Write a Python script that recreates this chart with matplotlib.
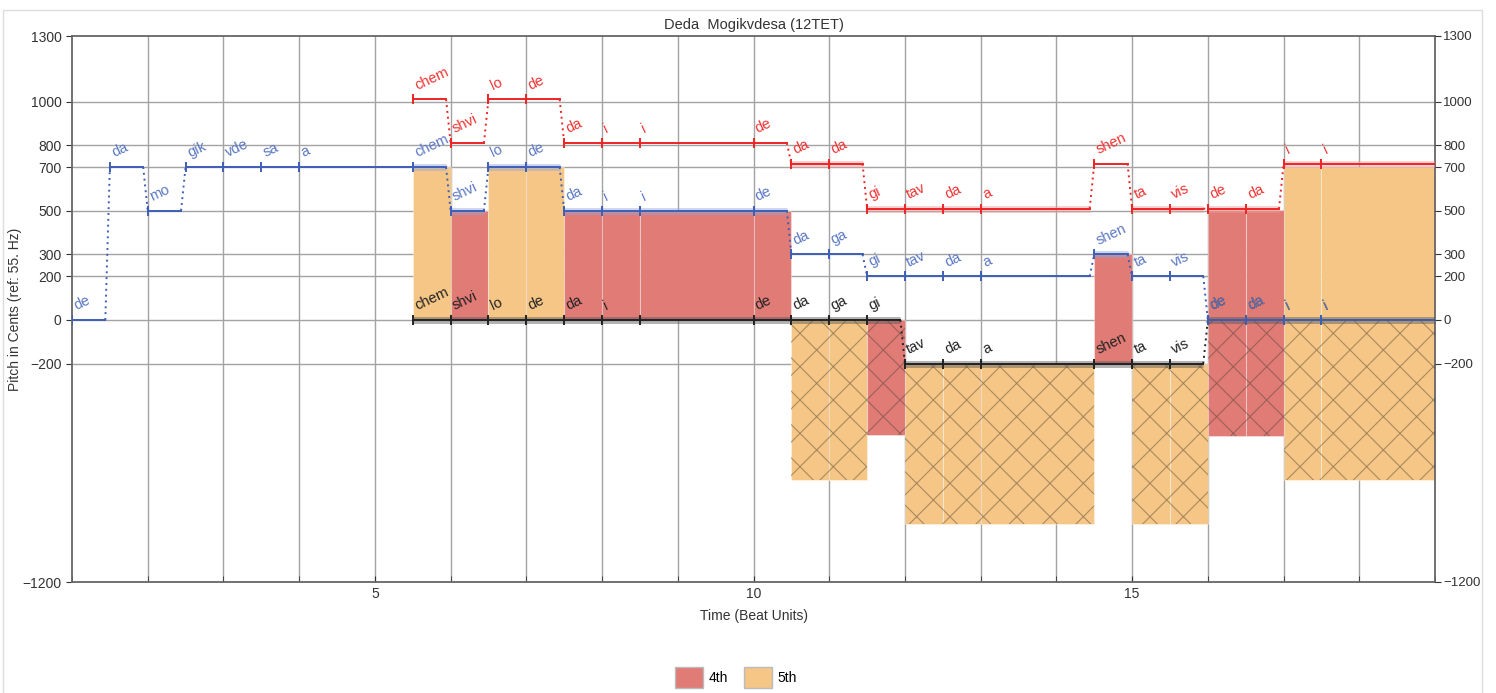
import matplotlib

matplotlib.use("Agg")
import matplotlib.pyplot as plt  # noqa: E402
from matplotlib.patches import Patch, Rectangle  # noqa: E402

plt.rcParams["font.family"] = ["Liberation Sans", "DejaVu Sans"]
plt.rcParams["hatch.linewidth"] = 0.8

PIECE_END = 19

# middle voice (blue)
mid_start = [1, 1.5, 2, 2.5, 3, 3.5, 4, 5.5, 6, 6.5, 7, 7.5, 8, 8.5, 10, 10.5,
             11, 11.5, 12, 12.5, 13, 14.5, 15, 15.5, 16, 16.5, 17, 17.5]
mid_syll = ["de", "da", "mo", "gik", "vde", "sa", "a", "chem", "shvi", "lo", "de",
            "da", "i", "i", "de", "da", "ga", "gi", "tav", "da", "a", "shen", "ta",
            "vis", "de", "da", "i", "i"]
mid_pitch = [0, 700, 500, 700, 700, 700, 700, 700, 500, 700, 700, 500, 500, 500,
             500, 300, 300, 200, 200, 200, 200, 300, 200, 200, 0, 0, 0, 0]

# top voice (red) and bass voice (black) enter at beat 5.5
low_start = [5.5, 6, 6.5, 7, 7.5, 8, 8.5, 10, 10.5, 11, 11.5, 12, 12.5, 13, 14.5,
             15, 15.5, 16, 16.5, 17, 17.5]
top_syll = ["chem", "shvi", "lo", "de", "da", "i", "i", "de", "da", "da", "gi",
            "tav", "da", "a", "shen", "ta", "vis", "de", "da", "i", "i"]
top_pitch = [1010, 810, 1010, 1010, 810, 810, 810, 810, 715, 715, 510, 510, 510,
             510, 715, 510, 510, 508, 508, 715, 715]
bass_syll = ["chem", "shvi", "lo", "de", "da", "i", "", "de", "da", "ga", "gi",
             "tav", "da", "a", "shen", "ta", "vis", "de", "da", "i", "i"]
bass_pitch = [0, 0, 0, 0, 0, 0, 0, 0, 0, 0, 0, -200, -200, -200, -200, -200, -200,
              0, 0, 0, 0]

# interval shading per bass note: solid up to a voice, hatched mirrored below the bass
solid_top = [700, 500, 700, 700, 500, 500, 500, 500, None, None, None, None, None,
             None, 300, None, None, 505, 505, 700, 700]
hatch_bottom = [None, None, None, None, None, None, None, None, -735, -735, -525,
                -935, -935, -935, None, -935, -935, -530, -530, -735, -735]

y_ticks = [1300, 1000, 800, 700, 500, 300, 200, 0, -200, -1200]

COLOR_4TH = "#E07B76"
COLOR_5TH = "#F5C685"
BLUE, BLUE_TEXT = "#3E5FB6", "#5A78C2"
RED, RED_TEXT = "#EE2424", "#F03232"
BLACK, BLACK_TEXT = "#222222", "#222222"


def interval_color(size):
    return COLOR_5TH if size > 600 else COLOR_4TH


def draw_voice(ax, starts, pitches, sylls, color, text_color, band=None, band_color=None):
    ends = starts[1:] + [PIECE_END]
    for i, (x0, x1, p, s) in enumerate(zip(starts, ends, pitches, sylls)):
        nxt = pitches[i + 1] if i + 1 < len(pitches) else None
        change = nxt is not None and nxt != p
        xe = x1 - 0.06 if change else x1
        if band is not None and band[i]:
            ax.plot([x0, xe], [p, p], color=band_color, lw=5, alpha=0.45,
                    solid_capstyle="butt", zorder=4)
        ax.plot([x0, xe], [p, p], color=color, lw=1.4, zorder=5)
        ax.plot(x0, p, marker="|", ms=7, mew=1.4, color=color, zorder=5)
        if change:
            ax.plot([xe, x1], [p, nxt], color=color, lw=1.4, ls=(0, (1, 2)), zorder=5)
        if s:
            ax.annotate(s, (x0, p), xytext=(4, 5), textcoords="offset points",
                        rotation=25, rotation_mode="anchor", color=text_color,
                        fontsize=10.5, ha="left", va="bottom", zorder=6)


fig = plt.figure(figsize=(14.96, 6.93), dpi=100)
ax = fig.add_axes([72 / 1496, 1 - 582 / 693, (1435 - 72) / 1496, (582 - 36) / 693])
ax.set_xlim(1, PIECE_END)
ax.set_ylim(-1200, 1300)

# grid
for x in range(2, PIECE_END):
    ax.axvline(x, color="#a3a3a3", lw=1.0, zorder=1)
for y in y_ticks[1:-1]:
    ax.axhline(y, color="#a3a3a3", lw=1.0, zorder=1)

# interval fills
low_end = low_start[1:] + [PIECE_END]
for x0, x1, b, top, bottom in zip(low_start, low_end, bass_pitch, solid_top, hatch_bottom):
    if top is not None:
        ax.add_patch(Rectangle((x0, b), x1 - x0, top - b, facecolor=interval_color(top - b),
                               edgecolor=(1, 1, 1, 0.35), lw=0.8, zorder=2))
    if bottom is not None:
        ax.add_patch(Rectangle((x0, bottom), x1 - x0, b - bottom,
                               facecolor=interval_color(b - bottom),
                               edgecolor=(1, 1, 1, 0.35), lw=0.8, zorder=2))
        ax.add_patch(Rectangle((x0, bottom), x1 - x0, b - bottom, fill=False, hatch="x",
                               edgecolor=(0.3, 0.25, 0.2, 0.45), lw=0, zorder=3))

# which segments carry a shaded band (they bound an interval fill)
mid_band = []
for x0, p in zip(mid_start, mid_pitch):
    hit = False
    for s, t in zip(low_start, solid_top):
        if s == x0 and t == p:
            hit = True
    mid_band.append(hit)
top_band = [h is not None or (t is not None and abs(t - p) < 15)
            for p, t, h in zip(top_pitch, solid_top, hatch_bottom)]
bass_band = [t is not None or h is not None for t, h in zip(solid_top, hatch_bottom)]

draw_voice(ax, low_start, bass_pitch, bass_syll, BLACK, BLACK_TEXT, bass_band, "#555555")
draw_voice(ax, mid_start, mid_pitch, mid_syll, BLUE, BLUE_TEXT, mid_band, "#8fa6db")
draw_voice(ax, low_start, top_pitch, top_syll, RED, RED_TEXT, top_band, "#f59a9a")

# axes styling
ax.set_yticks(y_ticks)
ax.set_xticks([5, 10, 15])
ax.set_xticks(range(1, PIECE_END + 1), minor=True)
ax.tick_params(axis="y", direction="out", length=4, labelsize=10, colors="#333333")
ax.tick_params(axis="x", which="both", direction="in", length=4, labelsize=10,
               colors="#333333")
for spine in ax.spines.values():
    spine.set_color("#666666")
    spine.set_linewidth(1.3)
right = ax.twinx()
right.set_ylim(ax.get_ylim())
right.set_yticks(y_ticks)
right.tick_params(axis="y", direction="out", length=4, pad=2, labelsize=9.5,
                  colors="#333333")
for spine in right.spines.values():
    spine.set_visible(False)

ax.set_title("Deda  Mogikvdesa (12TET)", fontsize=10.5, color="#333333", pad=5)
ax.set_xlabel("Time (Beat Units)", fontsize=10, color="#333333", labelpad=6)
ax.set_ylabel("Pitch in Cents (ref: 55. Hz)", fontsize=10, color="#333333")
ax.yaxis.set_label_coords(-0.037, 0.5)

handles = [Patch(facecolor=COLOR_4TH, edgecolor="#bbbbbb", label="4th"),
           Patch(facecolor=COLOR_5TH, edgecolor="#bbbbbb", label="5th")]
fig.legend(handles=handles, loc="center", bbox_to_anchor=(0.492, 0.022), ncol=2,
           frameon=False, handlelength=2.0, handleheight=2.0, handletextpad=0.4,
           columnspacing=1.2, fontsize=10)

fig.add_artist(Rectangle((3 / 1496, -0.01), 1479 / 1496, 1 - 10 / 693 + 0.01,
                         transform=fig.transFigure, fill=False, edgecolor="#dddddd", lw=1))

fig.savefig("out.png", dpi=100)
